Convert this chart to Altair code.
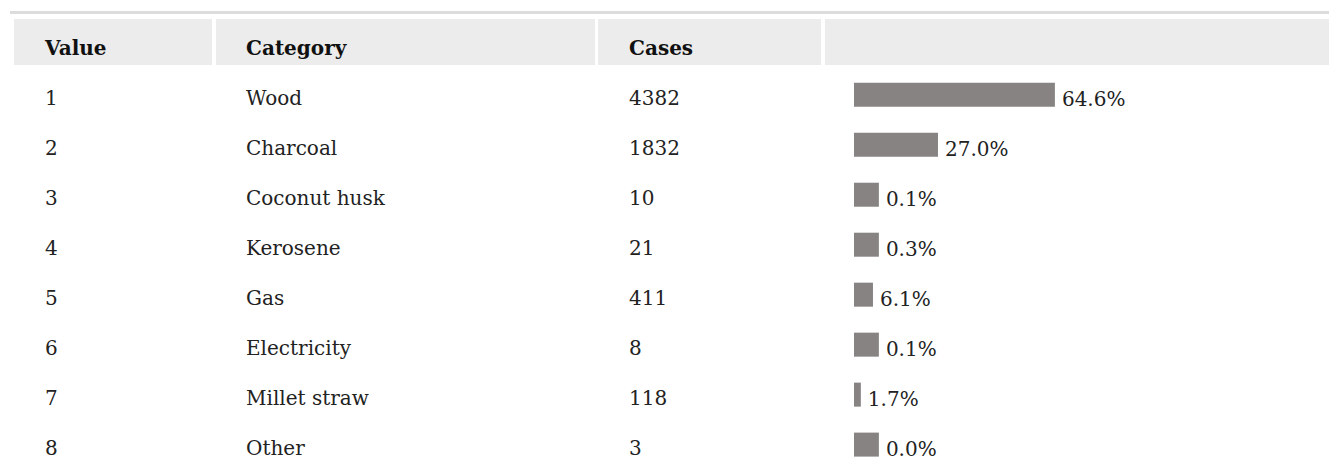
import altair as alt
import pandas as pd

# ---- data ----
values = [1, 2, 3, 4, 5, 6, 7, 8]
categories = ["Wood", "Charcoal", "Coconut husk", "Kerosene", "Gas",
              "Electricity", "Millet straw", "Other"]
cases = [4382, 1832, 10, 21, 411, 8, 118, 3]
pct_labels = ["64.6%", "27.0%", "0.1%", "0.3%", "6.1%", "0.1%", "1.7%", "0.0%"]
# bar lengths as drawn in the picture (percent units)
bar_lengths = [64.6, 27.0, 8.0, 8.0, 6.1, 8.0, 2.2, 8.0]
header_labels = ["Value", "Category", "Cases", ""]
title_text = "CATEGORIES"

df = pd.DataFrame({
    "row": values,
    "value": [str(v) for v in values],
    "category": categories,
    "cases": [str(c) for c in cases],
    "pct": pct_labels,
    "bar": bar_lengths,
})
hdr = pd.DataFrame({"row": [0] * 4, "label": header_labels})

FONT = "DejaVu Serif"
W, H = 1321, 456
y_scale = alt.Scale(domain=[0, 8], range=[41.8, 451.6])
x_scale = alt.Scale(domain=[0, 100], range=[846, 1157])
Y = alt.Y("row:Q", scale=y_scale, axis=None)

base = alt.Chart(df)

# header background cells
cells = [(6, 204), (208, 587), (590, 813), (817, W)]
header_bg = [
    alt.Chart(hdr).mark_rect(color="#ececec").encode(
        x=alt.value(a), x2=alt.value(b), y=alt.value(11), y2=alt.value(57))
    for a, b in cells
]

rule = alt.Chart(hdr).mark_rule(color="#dcdcdc", strokeWidth=3).encode(
    x=alt.value(2), x2=alt.value(W), y=alt.value(4.5))

title = alt.Chart(hdr).mark_text(
    font="DejaVu Sans", fontWeight="bold", fontSize=20, color="#9a9a9a",
    align="left", baseline="alphabetic").encode(
    x=alt.value(6), y=alt.value(-1), text=alt.value(title_text))

col_x = [37, 238, 621]
header_text = [
    alt.Chart(hdr.iloc[[i]]).mark_text(
        font=FONT, fontWeight="bold", fontSize=20, color="#111",
        align="left", baseline="alphabetic").encode(
        x=alt.value(col_x[i]), y=Y, text="label:N")
    for i in range(3)
]

body_text = [
    base.mark_text(font=FONT, fontSize=20, color="#222", align="left",
                   baseline="alphabetic").encode(
        x=alt.value(xp), y=Y, text=f"{field}:N")
    for xp, field in zip(col_x, ["value", "category", "cases"])
]

bars = base.mark_bar(orient="horizontal", size=24, yOffset=-10,
                     color="#878382").encode(
    x=alt.X("bar:Q", scale=x_scale, axis=None), y=Y)

pct_text = base.mark_text(font=FONT, fontSize=20, color="#222", align="left",
                          baseline="alphabetic", dx=7, dy=1).encode(
    x=alt.X("bar:Q", scale=x_scale, axis=None), y=Y, text="pct:N")

chart = alt.layer(
    rule, title, *header_bg, *header_text, *body_text, bars, pct_text
).properties(
    width=W, height=H, padding=0,
    autosize=alt.AutoSizeParams(type="none"),
).configure_view(stroke=None)

chart.save("out.html", embed_options={"renderer": "svg", "actions": False})
